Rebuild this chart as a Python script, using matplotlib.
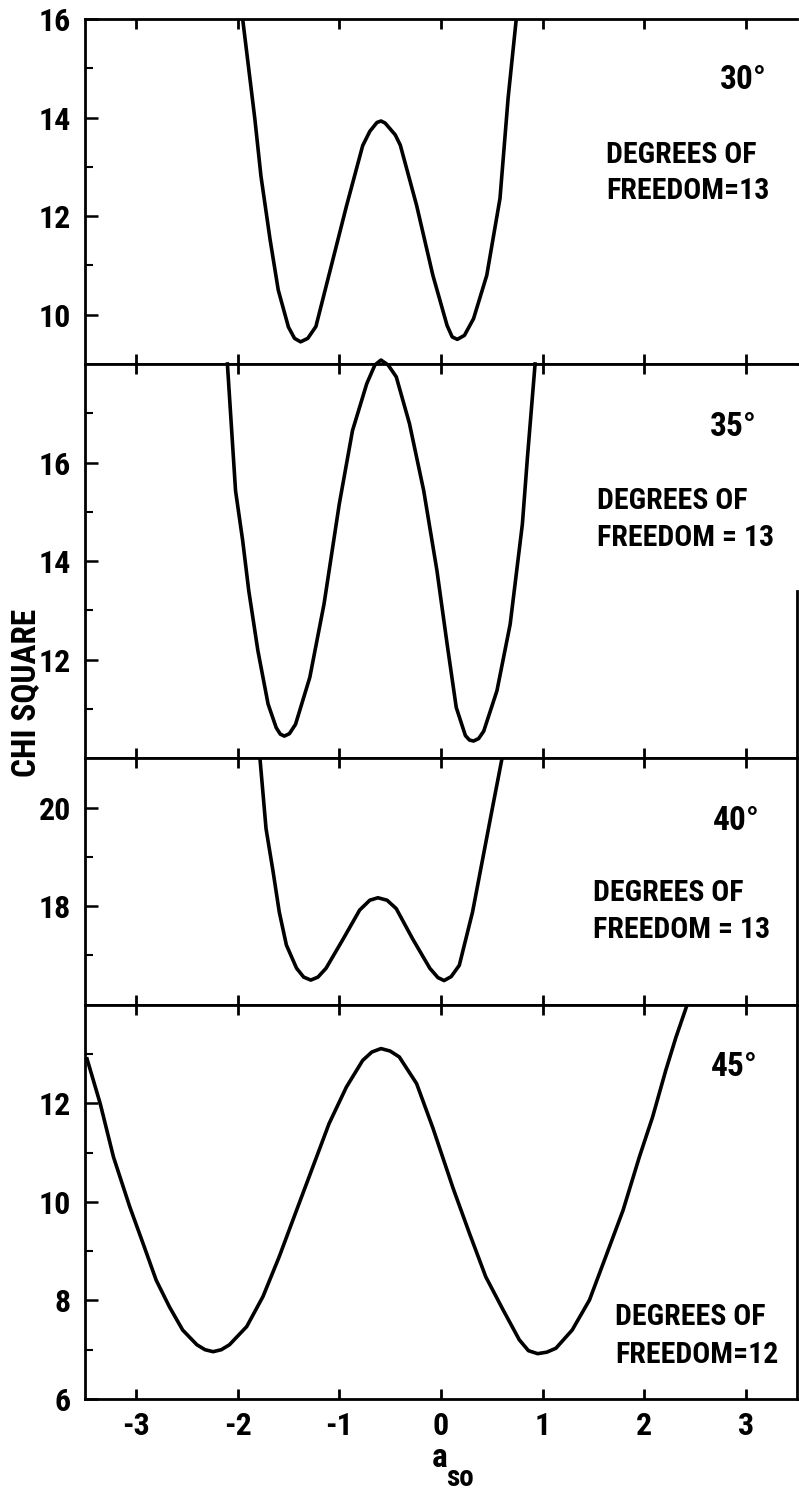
import matplotlib
matplotlib.use('Agg')
import matplotlib.pyplot as plt
from matplotlib import font_manager

# шрифт: ищем узкий (Narrow / Condensed), иначе Liberation Sans
names = {f.name for f in font_manager.fontManager.ttflist}
fam = None
for cand in ['Liberation Sans Narrow', 'Roboto Condensed', 'Open Sans Condensed',
             'DejaVu Sans Condensed', 'Noto Sans Condensed']:
    if cand in names:
        fam = cand
        break
if fam is None:
    other = sorted(n for n in names if 'Narrow' in n or 'Condensed' in n)
    fam = other[0] if other else 'Liberation Sans'
narrow = fam != 'Liberation Sans'
plt.rcParams['font.family'] = [fam, 'DejaVu Sans']
plt.rcParams['axes.unicode_minus'] = False

if narrow:
    fs_tick, fs_ang, fs_dof, fs_lab = 23, 24, 21.5, 24
else:
    fs_tick, fs_ang, fs_dof, fs_lab = 19, 19, 16.5, 19

# 30 градусов
x30 = [-1.95, -1.83, -1.77, -1.68, -1.60, -1.50, -1.44, -1.38, -1.31, -1.23, -1.08, -0.93, -0.77,
       -0.70, -0.63, -0.59, -0.55, -0.45, -0.40, -0.24, -0.08, 0.06, 0.11, 0.16, 0.23, 0.32, 0.45,
       0.58, 0.66, 0.74]
y30 = [16.0, 13.97, 12.81, 11.52, 10.50, 9.75, 9.52, 9.45, 9.52, 9.76, 10.98, 12.2, 13.43,
       13.72, 13.90, 13.93, 13.89, 13.65, 13.44, 12.22, 10.80, 9.78, 9.55, 9.50, 9.58, 9.92, 10.8,
       12.36, 14.4, 16.0]

# 35 градусов
x35 = [-2.10, -2.02, -1.95, -1.89, -1.80, -1.70, -1.62, -1.58, -1.54, -1.49, -1.43, -1.29, -1.15,
       -1.00, -0.87, -0.73, -0.65, -0.59, -0.52, -0.44, -0.31, -0.17, -0.04, 0.06, 0.15, 0.24, 0.28,
       0.32, 0.37, 0.42, 0.55, 0.68, 0.80, 0.85, 0.925]
y35 = [18.0, 15.43, 14.42, 13.40, 12.18, 11.10, 10.62, 10.49, 10.45, 10.50, 10.69, 11.64, 13.13,
       15.16, 16.65, 17.60, 17.98, 18.08, 17.98, 17.74, 16.79, 15.43, 13.81, 12.32, 11.03, 10.46, 10.37,
       10.35, 10.40, 10.55, 11.37, 12.72, 14.75, 16.11, 18.0]

# 40 градусов
x40 = [-1.78, -1.72, -1.65, -1.59, -1.52, -1.42, -1.35, -1.28, -1.21, -1.13, -0.96, -0.80, -0.70,
       -0.62, -0.53, -0.44, -0.28, -0.11, -0.03, 0.03, 0.10, 0.18, 0.31, 0.41, 0.51, 0.60]
y40 = [21.0, 19.57, 18.69, 17.88, 17.21, 16.74, 16.56, 16.50, 16.56, 16.74, 17.34, 17.92, 18.12,
       18.17, 18.12, 17.95, 17.34, 16.74, 16.55, 16.49, 16.57, 16.80, 17.88, 18.96, 20.04, 21.0]

# 45 градусов
x45 = [-3.48, -3.35, -3.22, -3.06, -2.93, -2.80, -2.67, -2.54, -2.40, -2.32, -2.24, -2.16, -2.08,
       -1.91, -1.75, -1.59, -1.42, -1.26, -1.10, -0.93, -0.77, -0.68, -0.59, -0.50, -0.41, -0.24,
       -0.08, 0.12, 0.28, 0.44, 0.61, 0.77, 0.86, 0.95, 1.04, 1.13, 1.29, 1.46, 1.62, 1.79, 1.95,
       2.08, 2.21, 2.31, 2.42]
y45 = [12.90, 11.99, 10.91, 9.90, 9.16, 8.41, 7.87, 7.40, 7.10, 7.00, 6.96, 7.00, 7.10,
       7.47, 8.08, 8.89, 9.83, 10.71, 11.59, 12.33, 12.87, 13.04, 13.11, 13.06, 12.94, 12.40,
       11.50, 10.27, 9.36, 8.48, 7.81, 7.20, 6.98, 6.92, 6.95, 7.03, 7.40, 8.01, 8.89, 9.83, 10.91,
       11.72, 12.67, 13.34, 14.0]

curves = [(x30, y30), (x35, y35), (x40, y40), (x45, y45)]
ylims = [(9, 16), (10, 18), (16, 21), (6, 14)]
major = [[10, 12, 14, 16], [12, 14, 16], [18, 20], [6, 8, 10, 12]]
minor = [[11, 13, 15], [11, 13, 15, 17], [17, 19], [7, 9, 11, 13]]
angles = ['30°', '35°', '40°', '45°']
dof_line1 = ['DEGREES OF', 'DEGREES OF', 'DEGREES OF', 'DEGREES OF']
dof_line2 = ['FREEDOM=13', 'FREEDOM = 13', 'FREEDOM = 13', 'FREEDOM=12']
xticks = [-3, -2, -1, 0, 1, 2, 3]

W, H = 799, 1493
fig = plt.figure(figsize=(W / 100, H / 100), dpi=100)
gs = fig.add_gridspec(4, 1, height_ratios=[7, 8, 5, 8], hspace=0,
                      left=85 / W, right=797 / W, top=1 - 19 / H, bottom=1 - 1399 / H)

# положение подписей (пиксели картинки)
ang_x = [767, 757, 760, 758]
ang_y = [80, 427, 821, 1067]
dof_x = [606, 597, 593, 615]
dof_y = [(155, 191), (501, 538), (893, 930), (1317, 1355)]

axes = []
for i in range(4):
    ax = fig.add_subplot(gs[i])
    axes.append(ax)
    cx, cy = curves[i]
    ax.plot(cx, cy, color='black', lw=2.6, clip_on=(i != 1), solid_joinstyle='round')
    ax.set_xlim(-3.5, 3.5)
    ax.set_ylim(*ylims[i])
    ax.set_xticks(xticks)
    ax.set_yticks(major[i])
    ax.set_yticks(minor[i], minor=True)
    ax.tick_params(axis='x', which='major', direction='in', top=True, bottom=True,
                   length=7.5, width=2, labelsize=fs_tick, pad=9)
    ax.tick_params(axis='y', which='major', direction='in', left=True, right=False,
                   length=9.5, width=1.8, labelsize=fs_tick, pad=10)
    ax.tick_params(axis='y', which='minor', direction='in', left=True, right=False,
                   length=6, width=1.5)
    for s in ax.spines.values():
        s.set_linewidth(2)
    if i < 3:
        ax.tick_params(axis='x', labelbottom=False)
    if i == 0:
        ax.spines['right'].set_visible(False)
    if i == 1:
        ax.spines['right'].set_bounds(10, 13.4)

    fig.text(ang_x[i] / W, 1 - ang_y[i] / H, angles[i], ha='right', va='center',
             fontsize=fs_ang, fontweight='bold')
    fig.text(dof_x[i] / W, 1 - dof_y[i][0] / H, dof_line1[i], ha='left', va='center',
             fontsize=fs_dof, fontweight='bold')
    fig.text(dof_x[i] / W, 1 - dof_y[i][1] / H, dof_line2[i], ha='left', va='center',
             fontsize=fs_dof, fontweight='bold')

axes[3].set_xticklabels([str(t) for t in xticks], fontweight='bold')
for ax in axes:
    for lab in ax.get_yticklabels():
        lab.set_fontweight('bold')

# подпись оси x: a с индексом so
fig.text(440 / W, 1 - 1458 / H, 'a', ha='center', va='center', fontsize=fs_lab, fontweight='bold')
fig.text(446 / W, 1 - 1478 / H, 'so', ha='left', va='center', fontsize=fs_lab - 3, fontweight='bold')
fig.text(26 / W, 1 - 693 / H, 'CHI SQUARE', rotation=90, ha='center', va='center',
         fontsize=fs_lab, fontweight='bold')

fig.savefig('out.png', dpi=100)
